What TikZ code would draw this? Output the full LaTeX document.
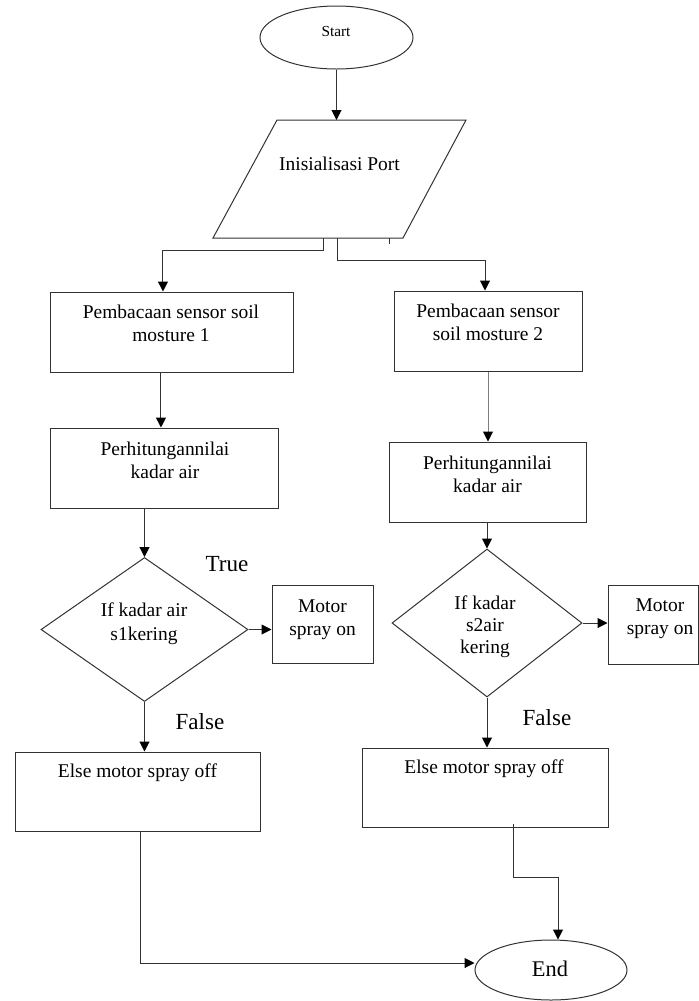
\documentclass[tikz,border=0pt]{standalone}
\usepackage{fontspec}
\setmainfont{Liberation Serif}
\usepackage{xcolor}
\usetikzlibrary{shapes.geometric}
\usetikzlibrary{arrows.meta}
\definecolor{lineclr}{RGB}{50,50,50}
\definecolor{greyclr}{RGB}{125,125,125}

\begin{document}
\begin{tikzpicture}[x=0.75pt,y=0.75pt,yscale=-1,xscale=1,
  shp/.style={draw=lineclr, line width=0.75, inner sep=0pt},
  box/.style={shp, rectangle},
  arr/.style={draw=lineclr, line width=0.75, -{Triangle[width=7.5pt,length=7.5pt,color=black]}},
  txt/.style={inner sep=0pt, align=center, font=\fontsize{14.6}{17.3}\selectfont},
  big/.style={inner sep=0pt, font=\fontsize{17.3}{20}\selectfont}]
\useasboundingbox (0,0) rectangle (699,1001);

%Shape: Ellipse [id:start]
\node[shp, ellipse, minimum width=0.75*153pt, minimum height=0.75*63pt] (start) at (336.5,37.5) {};
% Text Node
\node[inner sep=0pt, font=\fontsize{11.5}{13}\selectfont] (startt) at (336,31) {Start};

%Shape: Parallelogram [id:port]
\coordinate (portT) at (336.5,120);
\coordinate (portBL) at (323,238);
\coordinate (portBR) at (337,238);
\draw [lineclr, line width=0.75]  (213,238) -- (277,120) -- (466,120) -- (403,238) -- cycle ;
% Text Node
\node[txt] (port) at (339.5,164) {Inisialisasi Port};

%Shape: Rectangle [id:read1]
\node[box, minimum width=0.75*243pt, minimum height=0.75*80pt] (read1) at (171.5,332) {};
% Text Node
\node[txt, anchor=north] (read1t) at (171,305) {Pembacaan sensor soil\\mosture 1};
%Shape: Rectangle [id:read2]
\node[box, minimum width=0.75*188pt, minimum height=0.75*80pt] (read2) at (488,331) {};
% Text Node
\node[txt, anchor=north] (read2t) at (488,304) {Pembacaan sensor\\soil mosture 2};

%Shape: Rectangle [id:calc1]
\node[box, minimum width=0.75*228pt, minimum height=0.75*80pt] (calc1) at (164,468) {};
% Text Node
\node[txt, anchor=north] (calc1t) at (165,442) {Perhitungannilai\\kadar air};
%Shape: Rectangle [id:calc2]
\node[box, minimum width=0.75*197pt, minimum height=0.75*80pt] (calc2) at (487.5,482) {};
% Text Node
\node[txt, anchor=north] (calc2t) at (487.5,456) {Perhitungannilai\\kadar air};

%Shape: Diamond [id:dec1]
\node[shp, diamond, minimum width=0.75*207pt, minimum height=0.75*144pt] (dec1) at (144.5,629.5) {};
% Text Node
\node[txt, anchor=north] (dec1t) at (144,603) {If kadar air\\s1kering};
%Shape: Diamond [id:dec2]
\node[shp, diamond, minimum width=0.75*190pt, minimum height=0.75*148pt] (dec2) at (487,623) {};
% Text Node
\node[txt, anchor=north, font=\fontsize{14.6}{16.5}\selectfont] (dec2t) at (485,596) {If kadar\\s2air\\kering};

%Shape: Rectangle [id:on1]
\node[box, minimum width=0.75*101pt, minimum height=0.75*78pt] (on1) at (322.5,624) {};
% Text Node
\node[txt, anchor=north] (on1t) at (322.5,599) {Motor\\spray on};
%Shape: Rectangle [id:on2]
\node[box, minimum width=0.75*90pt, minimum height=0.75*79pt] (on2) at (653,624.5) {};
% Text Node
\node[txt, anchor=north] (on2t) at (660,598) {Motor\\spray on};

%Shape: Rectangle [id:off1]
\node[box, minimum width=0.75*245pt, minimum height=0.75*79pt] (off1) at (137.5,791.5) {};
% Text Node
\node[txt, anchor=north] (off1t) at (137.5,764) {Else motor spray off};
%Shape: Rectangle [id:off2]
\node[box, minimum width=0.75*246pt, minimum height=0.75*79pt] (off2) at (485,787.5) {};
% Text Node
\node[txt, anchor=north] (off2t) at (484,760) {Else motor spray off};

%Shape: Ellipse [id:end]
\node[shp, ellipse, minimum width=0.75*152pt, minimum height=0.75*60pt] (end) at (551,970) {};
% Text Node
\node[inner sep=0pt, font=\fontsize{16.8}{19}\selectfont] (endt) at (550,969) {End};

% Text Node
\node[big] (truet) at (227,564) {True};
% Text Node
\node[big] (false1) at (200,722) {False};
% Text Node
\node[big] (false2) at (547,718) {False};

%Straight Lines
\draw[arr] (start.south) -- (portT);
\draw[arr] (portBL) -- ++(0,12) -| ([xshift=-6.4pt]read1.north);
\draw[arr] (portBR) -- ++(0,22) -| ([xshift=-2.25pt]read2.north);
\draw [lineclr, line width=0.75] (389,238) -- (389,244);
\draw[arr] ([xshift=-7.9pt]read1.south) -- ([xshift=-7.9pt]read1.south |- calc1.north);
\draw[arr, draw=greyclr] (read2.south) -- (read2.south |- calc2.north);
\draw[arr] (dec1.north |- calc1.south) -- (dec1.north);
\draw[arr] (dec2.north |- calc2.south) -- (dec2.north);
\draw[arr] (dec1.east) -- (on1.west |- dec1.east);
\draw[arr] (dec2.east) -- (on2.west |- dec2.east);
\draw[arr] (dec1.south) -- (dec1.south |- off1.north);
\draw[arr] (dec2.south) -- (dec2.south |- off2.north);
\draw[arr] ([xshift=1.9pt]off1.south) |- ([yshift=-5.25pt]end.west);
\draw[arr] ([shift={(21pt,-3pt)}]off2.south) -- ++(0,54) -| ([xshift=5.25pt]end.north);

\end{tikzpicture}
\end{document}
